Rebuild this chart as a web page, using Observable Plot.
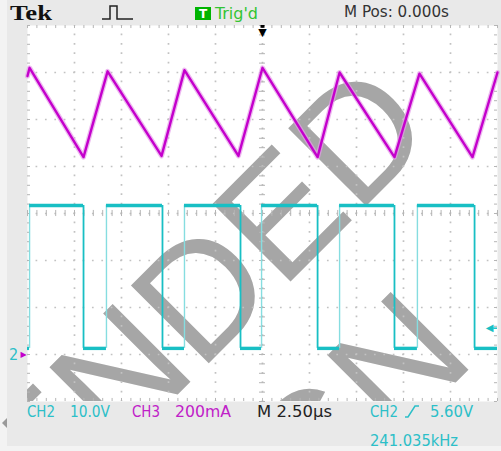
<!DOCTYPE html>
<html>
<head>
<meta charset="utf-8">
<script src="https://cdn.jsdelivr.net/npm/d3@7"></script>
<script src="https://cdn.jsdelivr.net/npm/@observablehq/plot@0.6"></script>
<style>
  html, body { margin: 0; padding: 0; }
  body { width: 501px; height: 451px; background: #f3f3f3; position: relative; overflow: hidden; }
  #bg { position: absolute; left: 7px; top: 0; width: 494px; height: 446px; background: #e9e9e9; }
  #stack { position: absolute; left: 0; top: 0; width: 501px; }
  #stack svg { display: block; }
  .lcd { font-family: "DejaVu Sans Condensed", "DejaVu Sans", sans-serif; font-size: 15px; }
</style>
</head>
<body>
<div id="bg"></div>
<div id="stack">
  <svg id="header" width="501" height="25" viewBox="0 0 501 25">
    <text x="10" y="20" font-family="Liberation Serif" font-weight="bold" font-size="21" textLength="42" lengthAdjust="spacingAndGlyphs" fill="#111">Tek</text>
    <path d="M102,19 H110 V6 H117 V19 H133" fill="none" stroke="#222" stroke-width="1.5"/>
    <rect x="195" y="7" width="16" height="13" fill="#00b400"/>
    <text x="203" y="18" text-anchor="middle" font-family="DejaVu Sans" font-weight="bold" font-size="12" fill="white">T</text>
    <text class="lcd" x="215" y="19" textLength="43" lengthAdjust="spacingAndGlyphs" fill="#33c433">Trig'd</text>
    <text class="lcd" x="344" y="17" textLength="105" lengthAdjust="spacingAndGlyphs" fill="#333">M Pos: 0.000s</text>
  </svg>
  <div id="chart"></div>
  <svg id="footer" width="501" height="50" viewBox="0 0 501 50">
    <polygon points="7,17 2,22 7,27" fill="#9a9a9a"/>
    <text class="lcd" x="27" y="16" textLength="28" lengthAdjust="spacingAndGlyphs" fill="#2cbfc8">CH2</text>
    <text class="lcd" x="70" y="16" textLength="40" lengthAdjust="spacingAndGlyphs" fill="#2cbfc8">10.0V</text>
    <text class="lcd" x="132" y="16" textLength="28" lengthAdjust="spacingAndGlyphs" fill="#c020c8">CH3</text>
    <text class="lcd" x="175" y="16" textLength="56" lengthAdjust="spacingAndGlyphs" fill="#c020c8">200mA</text>
    <text class="lcd" x="257" y="16" textLength="75" lengthAdjust="spacingAndGlyphs" fill="#222">M 2.50µs</text>
    <text class="lcd" x="370" y="16" textLength="28" lengthAdjust="spacingAndGlyphs" fill="#2cbfc8">CH2</text>
    <path d="M405,16 H408 L415,5 H419" fill="none" stroke="#2cbfc8" stroke-width="1.5"/>
    <text class="lcd" x="430" y="16" textLength="43" lengthAdjust="spacingAndGlyphs" fill="#2cbfc8">5.60V</text>
    <text class="lcd" x="370" y="45" textLength="88" lengthAdjust="spacingAndGlyphs" fill="#2cbfc8">241.035kHz</text>
  </svg>
</div>
<script>
// ---- data (time in µs, 2.50 µs/div; CH2 10.0 V/div; CH3 200 mA/div; both grounds at marker "2") ----
const ch3TimeUs = [-12.5, -12.39, -9.52, -8.24, -5.37, -4.15, -1.28, 0.0, 2.93, 4.10, 7.02, 8.35, 11.17, 12.5];
const ch3CurrentMa = [1185, 1220, 840, 1205, 845, 1210, 845, 1220, 840, 1200, 840, 1195, 840, 1200];

const ch2EdgeUs = [-12.39, -9.52, -8.30, -5.32, -4.15, -1.17, -0.05, 2.93, 4.10, 7.02, 8.24, 11.28];
const ch2LowV = 1.3;
const ch2HighV = 31.7;
const ch2StartsLow = true;

const triggerLevelV = 5.60;
const gridLinesUs = [-10, -7.5, -5, -2.5, 0, 2.5, 5, 7.5, 10];
const gridLinesDiv = [-3, -2, -1, 0, 1, 2, 3];
const watermarkLines = ["NOT RECOMMENDED", "FOR NEW DESIGN"];

// ---- scale helpers ----
const usPerDiv = 2.5, vPerDiv = 10, maPerDiv = 200, groundDiv = -3;
const v2div = v => v / vPerDiv + groundDiv;
const ma2div = m => m / maPerDiv + groundDiv;

const ch3 = ch3TimeUs.map((t, i) => ({t, ma: ch3CurrentMa[i]}));

const flats = [], rises = [], falls = [];
{
  let prev = -12.5, level = ch2StartsLow ? ch2LowV : ch2HighV;
  for (const e of ch2EdgeUs) {
    flats.push({x1: prev, x2: e, v: level});
    const next = level === ch2LowV ? ch2HighV : ch2LowV;
    (next === ch2HighV ? rises : falls).push({t: e, from: level, to: next});
    level = next; prev = e;
  }
  flats.push({x1: prev, x2: 12.5, v: level});
}

const minorX = d3.range(-12.5, 12.5001, usPerDiv / 5);
const minorY = d3.range(-4, 4.0001, 0.2);
const tickLenY = 0.065, tickLenX = 0.16;

// watermark lines anchored at their end (inside the screen), clipped to the graticule
const watermark = [
  {x: 9.36, y: 1.70, text: watermarkLines[0]},
  {x: 11.45, y: -3.13, text: watermarkLines[1]}
];

const cyan = "#18bfc4", cyanLight = "#86dde0", magenta = "#c400cc";
const gridColor = "#c2c2c2", tickColor = "#b5b5b5";

const chart = Plot.plot({
  width: 501, height: 376,
  marginTop: 0, marginBottom: 0, marginLeft: 27, marginRight: 4,
  x: {domain: [-12.5, 12.5], axis: null},
  y: {domain: [-4, 4], axis: null},
  style: {background: "transparent", overflow: "visible"},
  marks: [
    Plot.frame({fill: "white", stroke: "none"}),
    Plot.text(watermark, {x: "x", y: "y", text: "text", rotate: -45, textAnchor: "end", lineAnchor: "bottom",
      fontSize: 160, fontFamily: "Liberation Sans", fill: "#a6a6a6", clip: true}),
    Plot.ruleX(gridLinesUs, {x: d => d, stroke: gridColor, strokeWidth: 1.7, strokeDasharray: "1.7 7.7", strokeDashoffset: 0.85}),
    Plot.ruleY(gridLinesDiv, {y: d => d, stroke: gridColor, strokeWidth: 1.7, strokeDasharray: "1.7 7.7", strokeDashoffset: 0.85}),
    Plot.ruleX(minorX, {x: d => d, y1: 4, y2: 4 - tickLenY, stroke: tickColor}),
    Plot.ruleX(minorX, {x: d => d, y1: -4, y2: -4 + tickLenY, stroke: tickColor}),
    Plot.ruleX(minorX, {x: d => d, y1: -tickLenY, y2: tickLenY, stroke: tickColor}),
    Plot.ruleY(minorY, {y: d => d, x1: -12.5, x2: -12.5 + tickLenX, stroke: tickColor}),
    Plot.ruleY(minorY, {y: d => d, x1: 12.5, x2: 12.5 - tickLenX, stroke: tickColor}),
    Plot.ruleY(minorY, {y: d => d, x1: -tickLenX, x2: tickLenX, stroke: tickColor}),
    // CH3 current (magenta)
    Plot.line(ch3, {x: "t", y: d => ma2div(d.ma), stroke: "#e59be9", strokeWidth: 5, strokeOpacity: 0.7}),
    Plot.line(ch3, {x: "t", y: d => ma2div(d.ma), stroke: magenta, strokeWidth: 2.4}),
    // CH2 switch node (cyan)
    Plot.ruleX(rises, {x: "t", y1: d => v2div(d.from), y2: d => v2div(d.to), stroke: cyanLight, strokeWidth: 1.4}),
    Plot.ruleX(falls, {x: "t", y1: d => v2div(d.from), y2: d => v2div(d.to), stroke: cyan, strokeWidth: 1.8}),
    Plot.ruleY(flats, {y: d => v2div(d.v), x1: "x1", x2: "x2", stroke: cyan, strokeWidth: 3.4}),
    // markers
    Plot.ruleX([0], {x: d => d, y1: 4, y2: 4 - 0.06, stroke: "black", strokeWidth: 4}),
    Plot.text([0], {x: d => d, y: 4, text: () => "▼", dy: 7, fontSize: 11, fontFamily: "DejaVu Sans", fill: "black"}),
    Plot.text([triggerLevelV], {x: 12.5, y: d => v2div(d), text: () => "◀", dx: -8, fontSize: 10, fontFamily: "DejaVu Sans", fill: cyan}),
    Plot.ruleY([triggerLevelV], {y: d => v2div(d), x1: 12.5 - 0.2, x2: 12.5, stroke: cyan, strokeWidth: 1.5}),
    Plot.text([0], {x: -12.5, y: () => v2div(0), text: () => "2", dx: -14, fontSize: 16, fontFamily: "DejaVu Sans Condensed, DejaVu Sans", fill: "#2cbfc8"}),
    Plot.text([0], {x: -12.5, y: () => ma2div(0), text: () => "▶", dx: -4, fontSize: 8, fontFamily: "DejaVu Sans", fill: magenta})
  ]
});
document.getElementById("chart").appendChild(chart);
</script>
</body>
</html>
